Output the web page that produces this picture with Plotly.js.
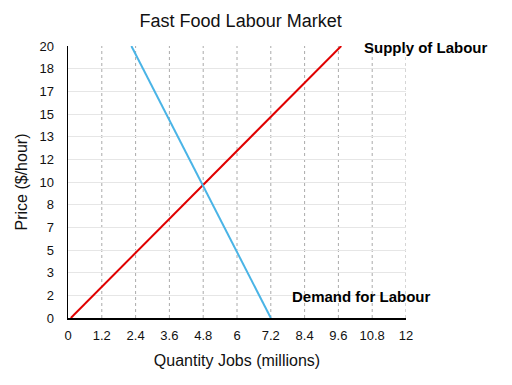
<!DOCTYPE html>
<html>
<head>
<meta charset="utf-8">
<script src="https://cdn.plot.ly/plotly-3.0.1.min.js"></script>
<style>html,body{margin:0;padding:0;background:#fff}#chart{width:512px;height:385px}</style>
</head>
<body>
<div id="chart"></div>
<script>
// Data
const supplyQty = [0.1, 9.7];
const supplyPrice = [0, 20];
const demandQty = [2.25, 7.2];
const demandPrice = [20, 0];
const xTickVals = [0, 1.2, 2.4, 3.6, 4.8, 6, 7.2, 8.4, 9.6, 10.8, 12];
const xTickText = ["0", "1.2", "2.4", "3.6", "4.8", "6", "7.2", "8.4", "9.6", "10.8", "12"];
const yTickVals = [0, 1.667, 3.333, 5, 6.667, 8.333, 10, 11.667, 13.333, 15, 16.667, 18.333, 20];
const yTickText = ["0", "2", "3", "5", "7", "8", "10", "12", "13", "15", "17", "18", "20"];
const supplyLabel = "Supply of Labour";
const demandLabel = "Demand for Labour";

const font = "Liberation Sans, Arial, Helvetica, sans-serif";

const traces = [
  {x: supplyQty, y: supplyPrice, mode: "lines", line: {color: "#e00000", width: 2}, hoverinfo: "skip", cliponaxis: false},
  {x: demandQty, y: demandPrice, mode: "lines", line: {color: "#4ab4e6", width: 2}, hoverinfo: "skip", cliponaxis: false}
];

// vertical dotted gridlines via shapes derived from tick values
const shapes = xTickVals.filter(v => v > 0).map(v => ({
  type: "line", xref: "x", yref: "y", x0: v, x1: v, y0: 0, y1: 20,
  line: {color: "#aaaaaa", width: 1, dash: "dot"}, layer: "below"
}));

const layout = {
  width: 512, height: 385,
  margin: {l: 68, r: 106, t: 46, b: 67},
  paper_bgcolor: "#fff", plot_bgcolor: "#fff",
  showlegend: false,
  font: {family: font, color: "#111", size: 13},
  title: {text: "Fast Food Labour Market", font: {family: font, size: 18, color: "#111"}, x: 0.47, xanchor: "center", y: 0.945, yanchor: "middle"},
  xaxis: {
    range: [0, 12], tickvals: xTickVals, ticktext: xTickText,
    showgrid: false, zeroline: false, showline: true, linecolor: "#000", linewidth: 1.5,
    ticks: "", ticklabelstandoff: 5, tickfont: {size: 13, family: font, color: "#111"},
    title: {text: "Quantity Jobs (millions)", font: {size: 16, family: font, color: "#111"}, standoff: 12},
    fixedrange: true
  },
  yaxis: {
    range: [0, 20], tickvals: yTickVals, ticktext: yTickText,
    showgrid: true, gridcolor: "#e6e6e6", gridwidth: 1, zeroline: false,
    showline: true, linecolor: "#000", linewidth: 1.5,
    ticks: "", ticklabelstandoff: 10, tickfont: {size: 13, family: font, color: "#111"},
    title: {text: "Price ($/hour)", font: {size: 16, family: font, color: "#111"}, standoff: 8},
    fixedrange: true
  },
  shapes: shapes,
  annotations: [
    {x: 10.44, y: 19.9, xref: "x", yref: "y", text: "<b>" + supplyLabel + "</b>", showarrow: false, xanchor: "left", yanchor: "middle", font: {size: 15, family: font, color: "#000"}},
    {x: 7.88, y: 1.6, xref: "x", yref: "y", text: "<b>" + demandLabel + "</b>", showarrow: false, xanchor: "left", yanchor: "middle", font: {size: 15, family: font, color: "#000"}}
  ]
};

Plotly.newPlot("chart", traces, layout, {displayModeBar: false, staticPlot: true});
</script>
</body>
</html>
